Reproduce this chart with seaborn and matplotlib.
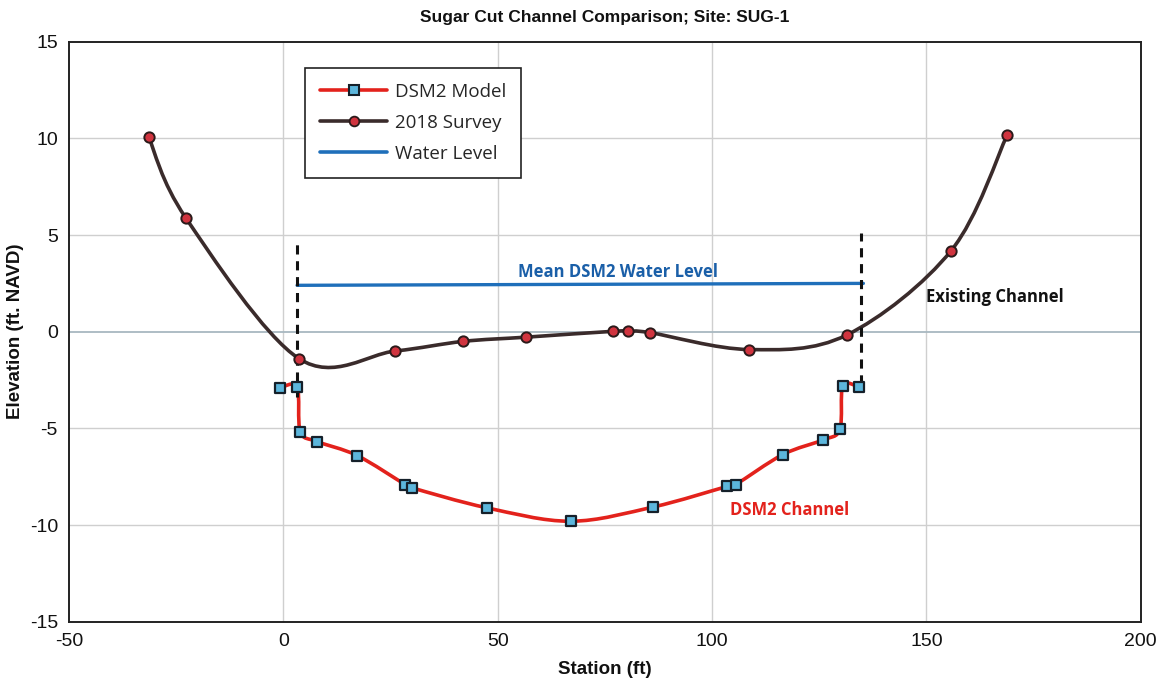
import numpy as np
import pandas as pd
import matplotlib
matplotlib.use("Agg")
import matplotlib.pyplot as plt
from matplotlib.path import Path
from matplotlib.patches import PathPatch
from matplotlib.lines import Line2D
import seaborn as sns

# ---- data ----
survey_x = [-31.4, -22.8, 3.7, 26.0, 41.9, 56.7, 76.8, 80.5, 85.6, 108.6, 131.4, 155.8, 168.8]
survey_y = [10.05, 5.9, -1.4, -1.0, -0.5, -0.28, 0.02, 0.02, -0.05, -0.92, -0.17, 4.2, 10.15]

dsm2_x = [-0.7, 3.2, 3.95, 7.9, 17.2, 28.4, 30.0, 47.4, 67.0, 86.3, 103.5, 105.5, 116.5, 125.8, 129.8, 130.5, 134.2]
dsm2_y = [-2.9, -2.86, -5.16, -5.68, -6.4, -7.9, -8.07, -9.1, -9.8, -9.06, -8.0, -7.9, -6.35, -5.6, -5.05, -2.8, -2.86]

water_x = [3.2, 135.3]
water_y = [2.4, 2.5]

left_bound_x = [3.2, 3.2]
left_bound_y = [-3.4, 4.6]
right_bound_x = [134.7, 134.7]
right_bound_y = [-2.7, 5.1]

x_ticks = [-50, 0, 50, 100, 150, 200]
y_ticks = [-15, -10, -5, 0, 5, 10, 15]

# ---- style ----
sns.set_theme(style="white")
plt.rcParams['font.family'] = ['Liberation Sans', 'DejaVu Sans']
plt.rcParams['axes.unicode_minus'] = False

c_survey_line = "#3a2b2b"
c_survey_mk = "#d0343f"
c_dsm2_line = "#e3221c"
c_dsm2_mk = "#5cb6dc"
c_water = "#1f6fba"

fig = plt.figure(figsize=(11.7, 6.94), dpi=100)
ax = fig.add_axes([0.059, 0.104, 0.916, 0.836])


def smooth_path(xs, ys, t=1 / 6):
    pts = np.column_stack([xs, ys]).astype(float)
    n = len(pts)
    verts = [pts[0]]
    codes = [Path.MOVETO]
    for i in range(n - 1):
        p0 = pts[i - 1] if i > 0 else pts[i]
        p1 = pts[i]
        p2 = pts[i + 1]
        p3 = pts[i + 2] if i + 2 < n else pts[i + 1]
        c1 = p1 + (p2 - p0) * t
        c2 = p2 - (p3 - p1) * t
        verts += [c1, c2, p2]
        codes += [Path.CURVE4] * 3
    return Path(verts, codes)


ax.set_xlim(-50, 200)
ax.set_ylim(-15, 15)

# grid
for xv in x_ticks[1:-1]:
    ax.axvline(xv, color="#cfcfcf", lw=1.0, zorder=0)
for yv in y_ticks[1:-1]:
    ax.axhline(yv, color="#cfcfcf" if yv != 0 else "#a8b8c0", lw=1.0 if yv != 0 else 1.3, zorder=0)

# water level
water_df = pd.DataFrame({"x": water_x, "y": water_y})
sns.lineplot(data=water_df, x="x", y="y", color=c_water, lw=2.4, ax=ax, zorder=2)

# smooth curves
ax.add_patch(PathPatch(smooth_path(survey_x, survey_y), fill=False, edgecolor=c_survey_line, lw=2.6, zorder=3))
ax.add_patch(PathPatch(smooth_path(dsm2_x, dsm2_y), fill=False, edgecolor=c_dsm2_line, lw=2.6, zorder=3))

# boundary dashed lines
ax.plot(left_bound_x, left_bound_y, color="#111111", lw=2.2, zorder=4, linestyle=(0, (3.0, 2.2)))
ax.plot(right_bound_x, right_bound_y, color="#111111", lw=2.2, zorder=4, linestyle=(0, (3.0, 2.2)))

# markers
sns.scatterplot(x=survey_x, y=survey_y, marker="o", s=55, color=c_survey_mk,
                edgecolor="#2a1a1a", linewidth=1.4, ax=ax, zorder=5)
sns.scatterplot(x=dsm2_x, y=dsm2_y, marker="s", s=62, color=c_dsm2_mk,
                edgecolor="#15202a", linewidth=1.6, ax=ax, zorder=5)

# annotations
ax.text(78, 3.1, "Mean DSM2 Water Level", color="#1a5fa8", fontsize=12, fontweight="bold",
        family=["Open Sans", "DejaVu Sans"], ha="center", va="center")
ax.text(166, 1.8, "Existing Channel", color="#111111", fontsize=12, fontweight="bold",
        family=["Open Sans", "DejaVu Sans"], ha="center", va="center")
ax.text(118, -9.2, "DSM2 Channel", color="#e3221c", fontsize=12, fontweight="bold",
        family=["Open Sans", "DejaVu Sans"], ha="center", va="center")

# legend
handles = [
    Line2D([], [], color=c_dsm2_line, lw=2.6, marker="s", markersize=7.5,
           markerfacecolor=c_dsm2_mk, markeredgecolor="#15202a", markeredgewidth=1.5),
    Line2D([], [], color=c_survey_line, lw=2.6, marker="o", markersize=7,
           markerfacecolor=c_survey_mk, markeredgecolor="#2a1a1a", markeredgewidth=1.3),
    Line2D([], [], color=c_water, lw=2.6),
]
leg = ax.legend(handles, ["DSM2 Model", "2018 Survey", "Water Level"],
                loc="upper left", bbox_to_anchor=(0.22, 0.955), frameon=True, fancybox=False,
                edgecolor="#222222", framealpha=1, handlelength=3.6, handletextpad=0.4,
                labelspacing=0.7, borderpad=0.8, borderaxespad=0,
                prop={"family": ["Open Sans", "DejaVu Sans"], "size": 13.5})
leg.get_frame().set_linewidth(1.2)

# axes styling
ax.set_xticks(x_ticks)
ax.set_yticks(y_ticks)
ax.tick_params(axis="both", length=0, labelsize=14, pad=8, colors="#111111")
for sp in ax.spines.values():
    sp.set_visible(True)
    sp.set_color("#222222")
    sp.set_linewidth(1.4)

ax.set_xlabel("Station (ft)", fontsize=13.5, fontweight="bold", labelpad=8, color="#111111")
ax.set_ylabel("Elevation (ft. NAVD)", fontsize=13.5, fontweight="bold", labelpad=4, color="#111111")
ax.set_title("Sugar Cut Channel Comparison; Site: SUG-1", fontsize=12.5, fontweight="bold",
             pad=14, color="#111111")

fig.savefig("out.png", dpi=100, facecolor="white")
